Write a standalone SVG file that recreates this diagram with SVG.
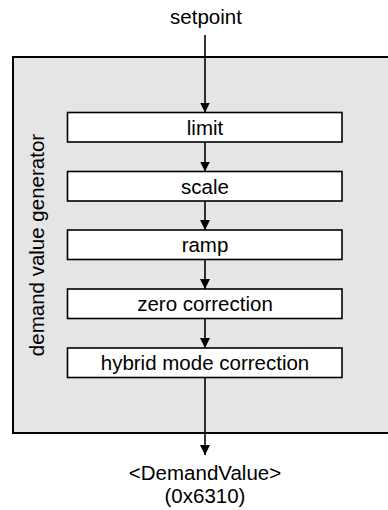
<svg xmlns="http://www.w3.org/2000/svg" width="388" height="510" viewBox="0 0 388 510">
<defs>
<marker id="arr" markerWidth="10" markerHeight="10" refX="10" refY="5" orient="auto" markerUnits="userSpaceOnUse" viewBox="0 0 10 10">
<path d="M0,0 L10,5 L0,10 Z" fill="#000"/>
</marker>
<style>
text{font-family:"Liberation Sans",Arial,sans-serif;font-size:20.5px;fill:#000;text-anchor:middle}
.box{fill:#fff;stroke:#000;stroke-width:1.6}
.con{stroke:#000;stroke-width:1.6;fill:none;marker-end:url(#arr)}
</style>
</defs>
<rect width="388" height="510" fill="#fff"/>
<g id="generator">
<rect x="13" y="57" width="385" height="376" fill="#e5e5e5" stroke="#000" stroke-width="2"/>
<text transform="translate(44,245) rotate(-90)">demand value generator</text>
</g>
<g id="setpoint"><text x="206" y="24">setpoint</text></g>
<g id="limit"><rect class="box" x="67.5" y="112.5" width="274.5" height="29.5"/><text x="205" y="134.5">limit</text></g>
<g id="scale"><rect class="box" x="67.5" y="171.5" width="274.5" height="29.5"/><text x="205" y="193.5">scale</text></g>
<g id="ramp"><rect class="box" x="67.5" y="230" width="274.5" height="29.5"/><text x="205" y="252">ramp</text></g>
<g id="zero"><rect class="box" x="67.5" y="289" width="274.5" height="29.5"/><text x="205" y="311">zero correction</text></g>
<g id="hybrid"><rect class="box" x="67.5" y="348" width="274.5" height="29.5"/><text x="205" y="370">hybrid mode correction</text></g>
<g id="output"><text x="205" y="480">&lt;DemandValue&gt;</text><text x="205" y="503">(0x6310)</text></g>
<g id="connectors">
<line class="con" x1="205" y1="35" x2="205" y2="112.5"/>
<line class="con" x1="205" y1="142" x2="205" y2="171.5"/>
<line class="con" x1="205" y1="201" x2="205" y2="230"/>
<line class="con" x1="205" y1="259.5" x2="205" y2="289"/>
<line class="con" x1="205" y1="318.5" x2="205" y2="348"/>
<line class="con" x1="205" y1="377.5" x2="205" y2="455"/>
</g>
</svg>
